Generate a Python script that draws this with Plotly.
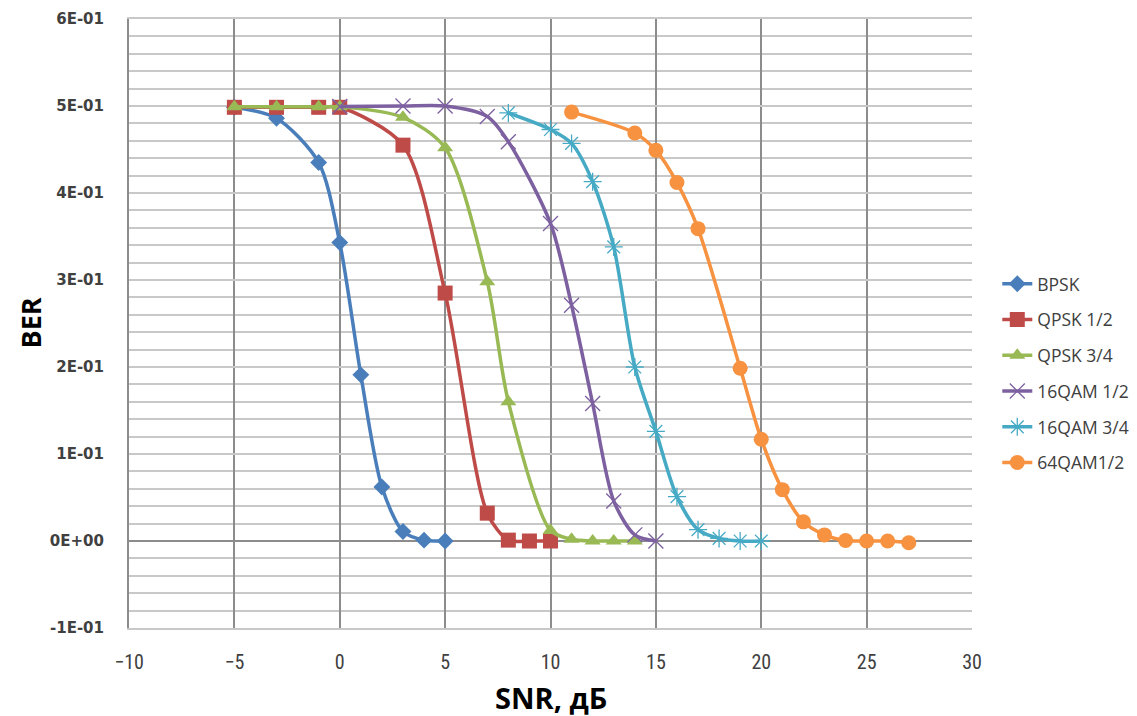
import plotly.graph_objects as go

# ---- data ----
bpsk_x = [-5, -3, -1, 0, 1, 2, 3, 4, 5]
bpsk_y = [0.4985, 0.486, 0.435, 0.343, 0.191, 0.062, 0.011, 0.001, 0.0]

qpsk12_x = [-5, -3, -1, 0, 3, 5, 7, 8, 9, 10]
qpsk12_y = [0.4985, 0.4985, 0.4985, 0.4985, 0.455, 0.285, 0.032, 0.001, 0.0, 0.0]

qpsk34_x = [-5, -3, -1, 0, 3, 5, 7, 8, 10, 11, 12, 13, 14]
qpsk34_y = [0.499, 0.499, 0.499, 0.499, 0.487, 0.452, 0.298, 0.160, 0.012, 0.002, 0.0, 0.0, 0.0]

qam16_12_x = [0, 3, 5, 7, 8, 10, 11, 12, 13, 14, 15]
qam16_12_y = [0.4995, 0.5, 0.5, 0.488, 0.459, 0.365, 0.271, 0.158, 0.046, 0.007, 0.0]

qam16_34_x = [8, 10, 11, 12, 13, 14, 15, 16, 17, 18, 19, 20]
qam16_34_y = [0.492, 0.473, 0.457, 0.413, 0.338, 0.200, 0.126, 0.051, 0.013, 0.003, 0.0, 0.0]

qam64_12_x = [11, 14, 15, 16, 17, 19, 20, 21, 22, 23, 24, 25, 26, 27]
qam64_12_y = [0.493, 0.469, 0.449, 0.412, 0.359, 0.1985, 0.117, 0.059, 0.022, 0.007, 0.0005, 0.0, 0.0, -0.002]

series_names = ["BPSK", "QPSK 1/2", "QPSK 3/4", "16QAM 1/2", "16QAM 3/4", "64QAM1/2"]

y_tick_vals = [-0.1, 0.0, 0.1, 0.2, 0.3, 0.4, 0.5, 0.6]
y_tick_text = ["-1E-01", "0E+00", "1E-01", "2E-01", "3E-01", "4E-01", "5E-01", "6E-01"]
x_tick_vals = [-10, -5, 0, 5, 10, 15, 20, 25, 30]

x_title = "SNR, дБ"
y_title = "BER"

# ---- styles ----
colors = ["#4A7EBB", "#BE4B48", "#98B954", "#7D60A0", "#46AAC5", "#F69240"]
symbols = ["diamond", "square", "triangle-up", "x-thin-open", "asterisk-open", "circle"]
sizes = [13, 15, 14, 15, 15, 15]

xs = [bpsk_x, qpsk12_x, qpsk34_x, qam16_12_x, qam16_34_x, qam64_12_x]
ys = [bpsk_y, qpsk12_y, qpsk34_y, qam16_12_y, qam16_34_y, qam64_12_y]

fig = go.Figure()
for i in range(6):
    open_sym = symbols[i].endswith("open")
    fig.add_trace(go.Scatter(
        x=xs[i], y=ys[i], name=series_names[i], mode="lines+markers",
        legendgroup=f"g{i}",
        line=dict(color=colors[i], width=3.5, shape="spline", smoothing=0.8),
        marker=dict(symbol=symbols[i], size=sizes[i], color=colors[i],
                    line=dict(color=colors[i], width=1.3 if open_sym else 0)),
    ))

label_font = "Liberation Sans Narrow, Roboto Condensed, Arial Narrow, Open Sans, sans-serif"

fig.update_layout(
    width=1129, height=708,
    margin=dict(l=121, r=165, t=11, b=88, autoexpand=False),
    paper_bgcolor="white", plot_bgcolor="white",
    showlegend=True,
    legend=dict(x=1.03, y=0.418, xanchor="left", yanchor="middle",
                font=dict(family="Open Sans, sans-serif", size=17.5, color="#404040"),
                tracegroupgap=10, itemwidth=30, bgcolor="rgba(0,0,0,0)"),
    xaxis=dict(
        range=[-10, 30], tickvals=x_tick_vals, showgrid=True, automargin=False,
        gridcolor="#8C8C8C", gridwidth=1.5, zeroline=False,
        showline=True, linecolor="#C8C8C8", linewidth=1.5, mirror=True,
        ticks="", ticklabelstandoff=15,
        tickfont=dict(family=label_font, size=20, color="#404040"),
    ),
    yaxis=dict(
        range=[-0.1, 0.6], tickvals=y_tick_vals, ticktext=y_tick_text,
        showgrid=True, gridcolor="#C8C8C8", gridwidth=1.5, automargin=False,
        minor=dict(dtick=0.02, showgrid=True, gridcolor="#C8C8C8", gridwidth=1.5),
        zeroline=True, zerolinecolor="#8C8C8C", zerolinewidth=1.5,
        showline=True, linecolor="#8C8C8C", linewidth=2, mirror=False,
        ticks="", ticklabelstandoff=20,
        tickfont=dict(family="DejaVu Sans, sans-serif", size=15, color="#404040", weight="bold"),
    ),
    annotations=[
        dict(text=f"<b>{x_title}</b>", xref="paper", yref="paper", x=0.5, y=0,
             xanchor="center", yanchor="middle", yshift=-69, showarrow=False,
             font=dict(family="Open Sans, sans-serif", size=29, color="#000000")),
        dict(text=f"<b>{y_title}</b>", xref="paper", yref="paper", x=0, y=0.5,
             xanchor="center", yanchor="middle", xshift=-99, textangle=-90, showarrow=False,
             font=dict(family="Open Sans, sans-serif", size=27, color="#000000")),
    ],
)

fig.write_html("out.html")
